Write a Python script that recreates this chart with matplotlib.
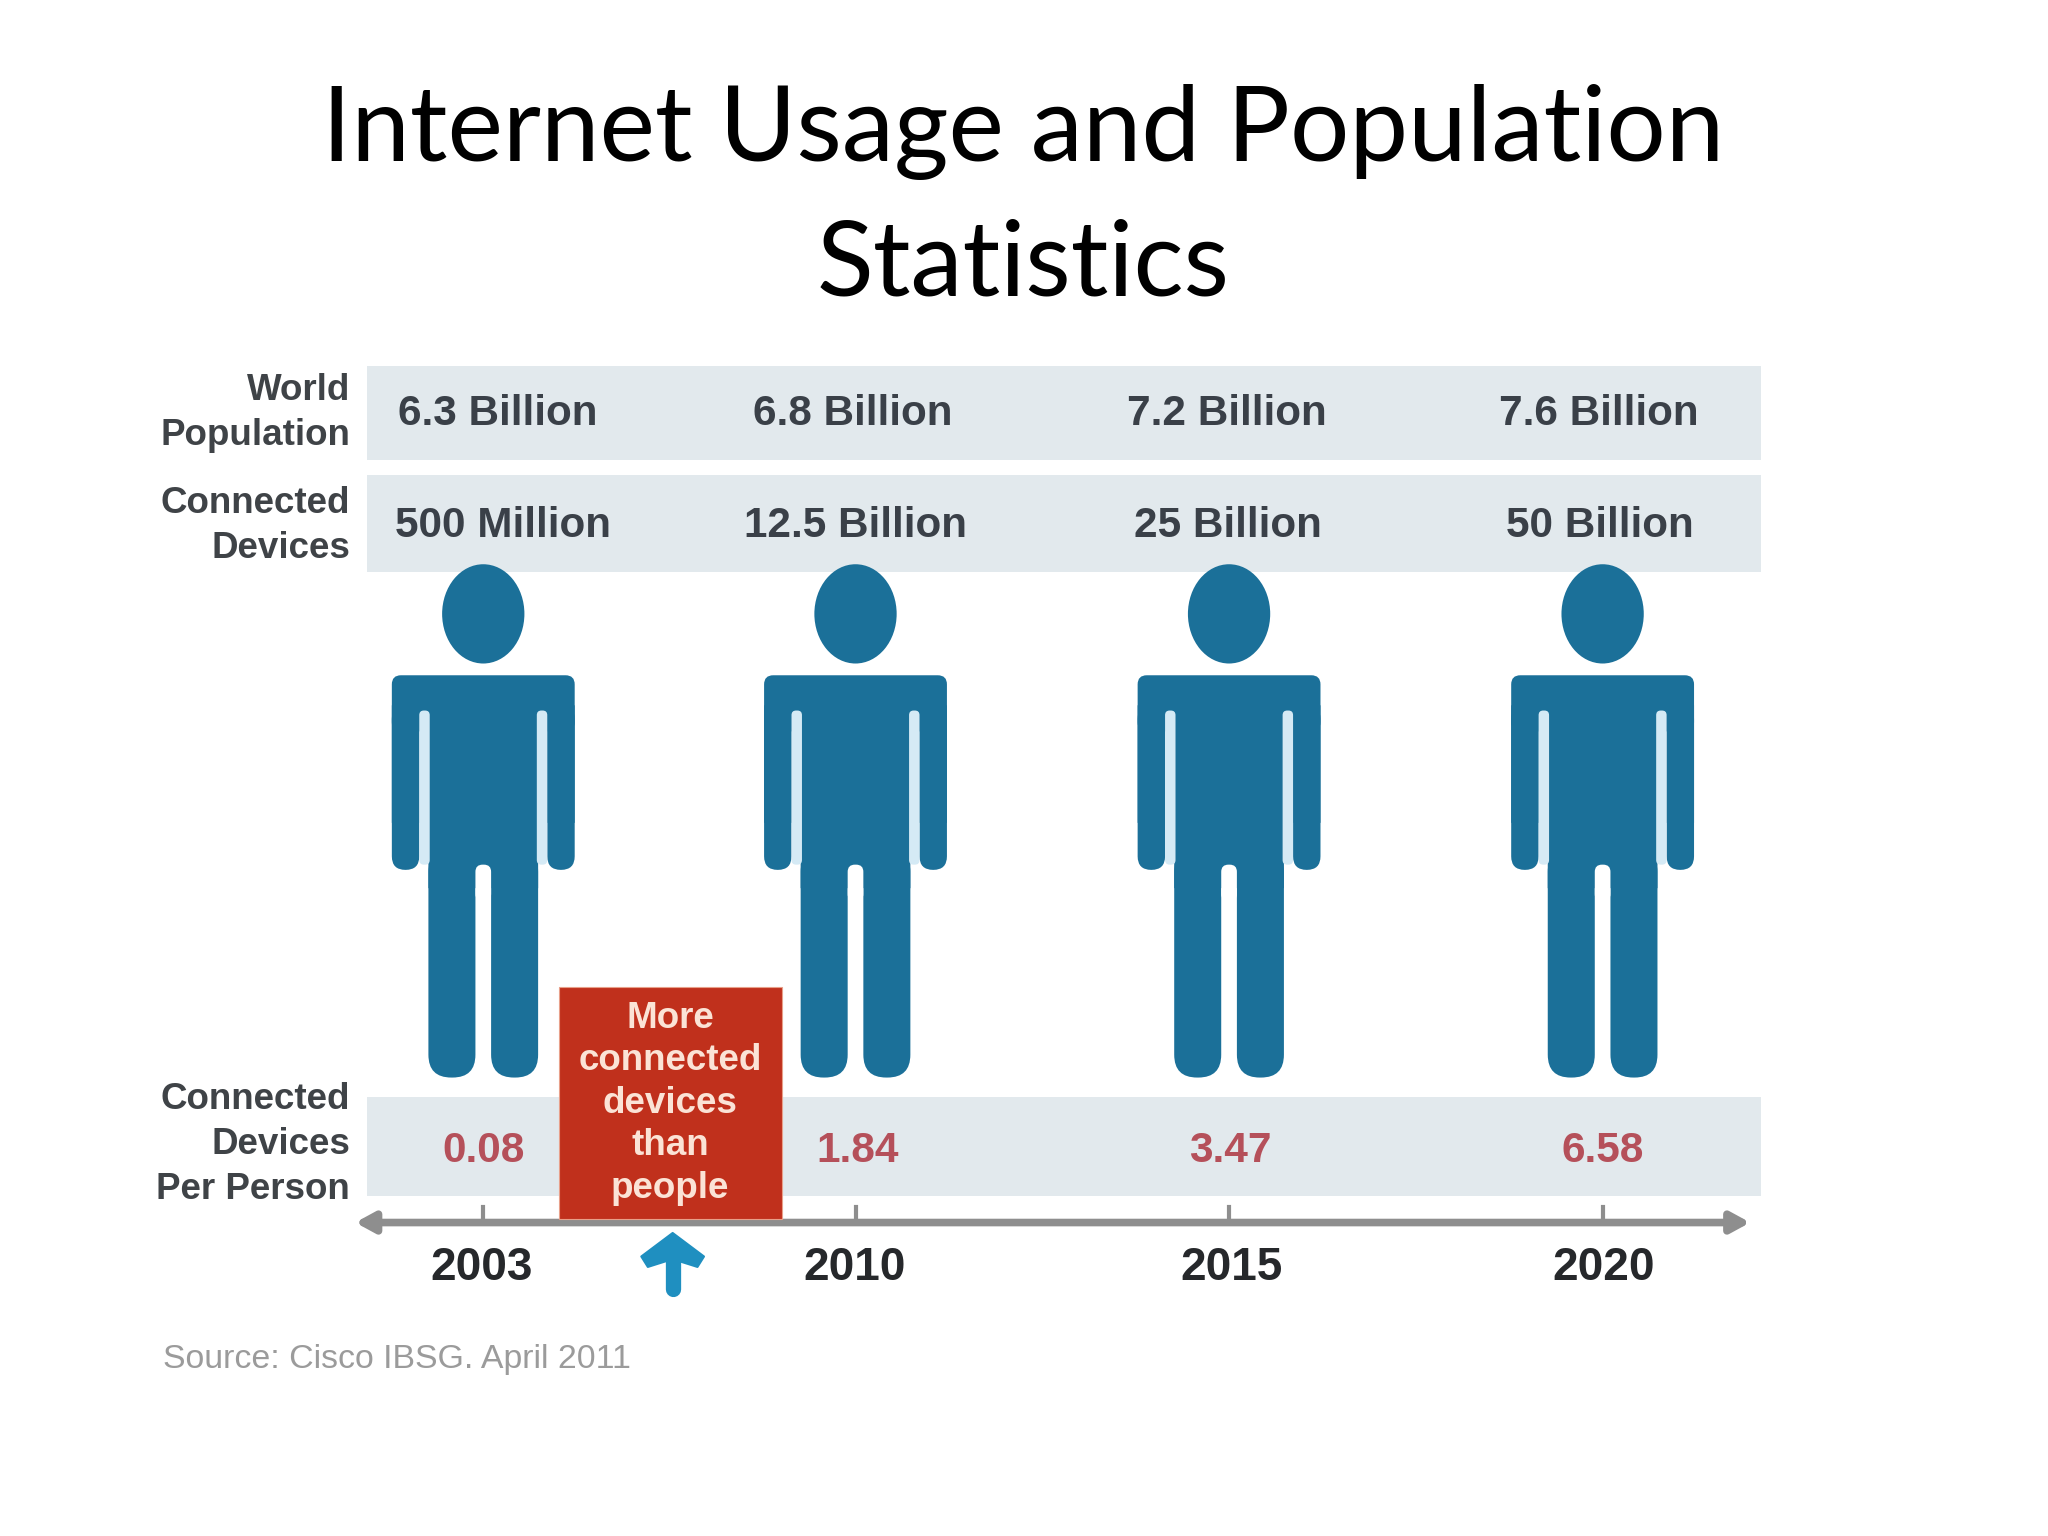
import matplotlib
matplotlib.use("Agg")
import matplotlib.pyplot as plt
from matplotlib.patches import Rectangle, Ellipse, FancyBboxPatch, Polygon

years = ["2003", "2010", "2015", "2020"]
population = ["6.3 Billion", "6.8 Billion", "7.2 Billion", "7.6 Billion"]
devices = ["500 Million", "12.5 Billion", "25 Billion", "50 Billion"]
per_person = ["0.08", "1.84", "3.47", "6.58"]
row_labels = ["World\nPopulation", "Connected\nDevices", "Connected\nDevices\nPer Person"]
callout = ["More", "connected", "devices", "than", "people"]

# slide layout, same scale as the picture
person_x = [370, 655, 941, 1227]
pop_x = [381, 653, 939, 1224]
dev_x = [385, 655, 940, 1225]
ratio_x = [370, 657, 942, 1227]
year_x = [369, 654, 943, 1228]

BLUE = "#1b7099"
BAND = "#e2e9ed"
GREY = "#8e8e8e"
SANS = "Liberation Sans"

fig = plt.figure(figsize=(20.48, 15.36), dpi=100)
ax = fig.add_axes([0, 0, 1, 1])
ax.set_xlim(0, 1568)
ax.set_ylim(1176, 0)
ax.axis("off")


def rounded(x0, x1, y0, y1, r, color, z=3):
    ax.add_patch(FancyBboxPatch((x0, y0), x1 - x0, y1 - y0,
                                boxstyle="round,pad=0,rounding_size=%g" % r,
                                fc=color, ec="none", zorder=z))


def person(cx):
    ax.add_patch(Ellipse((cx, 470), 63, 76, fc=BLUE, ec="none", zorder=3))
    rounded(cx - 70, cx + 70, 517, 560, 7, BLUE)
    for s in (-1, 1):
        a, b = sorted((cx + s * 49, cx + s * 70))
        rounded(a, b, 540, 666, 10.4, BLUE)
        ax.add_patch(Rectangle((a, 540), b - a, 90, fc=BLUE, ec="none", zorder=3, snap=False))
        a, b = sorted((cx + s * 41, cx + s * 49))
        rounded(a, b, 544, 662, 3.5, "#d5eaf5", z=4)
        a, b = sorted((cx + s * 6, cx + s * 42))
        rounded(a, b, 650, 825, 17.5, BLUE)
    ax.add_patch(Rectangle((cx - 42, 530), 84, 150, fc=BLUE, ec="none", zorder=3, snap=False))
    rounded(cx - 6, cx + 6, 662, 690, 5.5, "white", z=4)


for y0, y1 in [(280, 352), (364, 438), (840, 916)]:
    ax.add_patch(Rectangle((281, y0), 1067, y1 - y0, fc=BAND, ec="none", zorder=1))

for x in person_x:
    person(x)

for x, t in zip(pop_x, population):
    ax.text(x, 317, t, ha="center", va="center", family=SANS, weight="bold",
            fontsize=30.4, color="#3a4048", zorder=5)
for x, t in zip(dev_x, devices):
    ax.text(x, 403, t, ha="center", va="center", family=SANS, weight="bold",
            fontsize=30.4, color="#3a4048", zorder=5)
for x, t in zip(ratio_x, per_person):
    ax.text(x, 881, t, ha="center", va="center", family=SANS, weight="bold",
            fontsize=30.5, color="#b5505a", zorder=5)

for y, t in zip([316, 403, 876], row_labels):
    ax.text(268, y, t, ha="right", va="center", family=SANS, weight="bold",
            fontsize=26.5, color="#3f4347", linespacing=1.37, zorder=5)

# timeline
ax.annotate("", xy=(272, 936), xytext=(1340, 936), zorder=2,
            arrowprops=dict(arrowstyle="<|-|>,head_length=1.1,head_width=0.6",
                            color=GREY, lw=5.5, shrinkA=0, shrinkB=0))
for x in person_x:
    ax.plot([x, x], [924, 936], color=GREY, lw=3, zorder=2)
for x, t in zip(year_x, years):
    ax.text(x, 971, t, ha="center", va="center", family=SANS, weight="bold",
            fontsize=33, color="#26282b", zorder=5)

# callout box
ax.add_patch(Rectangle((428, 756), 171, 177, fc="#c0301c", ec="#e8a08a", lw=0.8, zorder=6))
for y, t in zip([780, 812, 845, 877, 910], callout):
    ax.text(513, y, t, ha="center", va="center", family=SANS, weight="bold",
            fontsize=26.5, color="#fbe3d6", zorder=7)

# arrow under the callout
ax.plot([515, 515], [960, 987], color="#1f8fc0", lw=11, solid_capstyle="round", zorder=5)
ax.add_patch(Polygon([(515, 944), (539, 962), (534, 970), (515, 964), (496, 970), (491, 962)],
                     closed=True, fc="#1f8fc0", ec="#1f8fc0", lw=1.5, joinstyle="round", zorder=5))

ax.text(125, 1041, "Source: Cisco IBSG. April 2011", ha="left", va="center", family=SANS,
        fontsize=24.4, color="#9b9b9b", zorder=5)

ax.text(783, 101, "Internet Usage and Population", ha="center", va="center",
        family="Lato", fontsize=75.5, color="black")
ax.text(783, 204, "Statistics", ha="center", va="center",
        family="Lato", fontsize=75.5, color="black")

fig.savefig("out.png", dpi=100, facecolor="white")
